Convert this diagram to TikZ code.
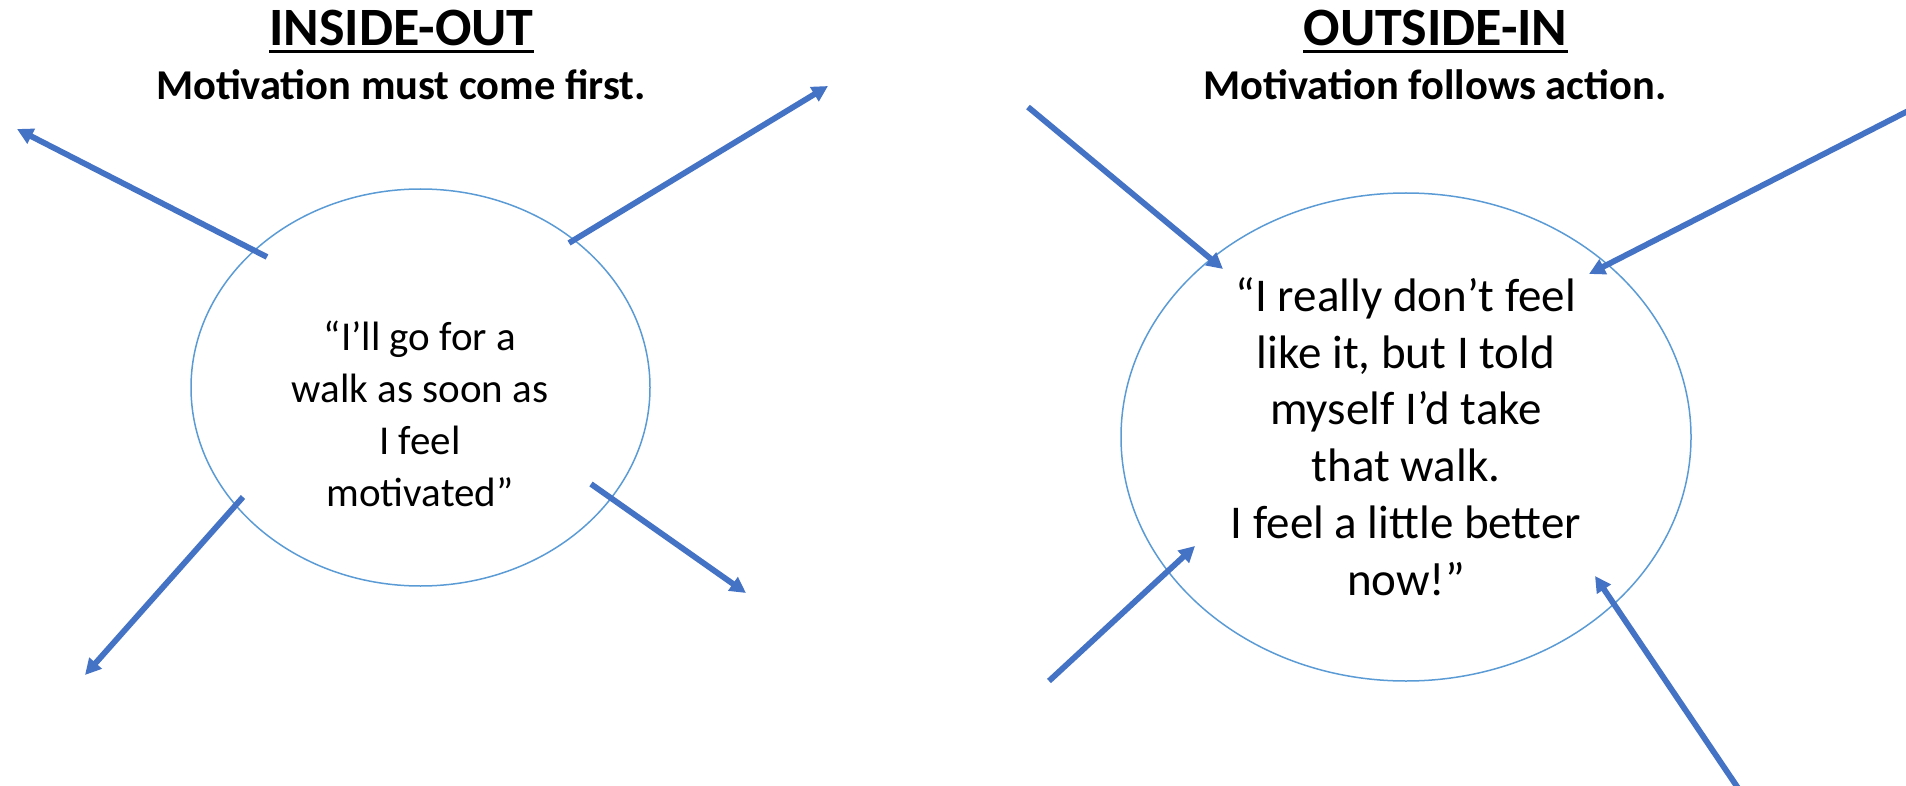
\documentclass[tikz,border=0pt]{standalone}
\usepackage{fontspec}
\setmainfont{Carlito}
\usetikzlibrary{arrows.meta,shapes.geometric}
\definecolor{arrowblue}{HTML}{4472C4}
\definecolor{ringblue}{HTML}{5B9BD5}
\tikzset{
  arr/.style={draw=arrowblue, line width=5.8pt, -{Triangle[length=16pt,width=16pt]}},
  ring/.style={ellipse, draw=ringblue, line width=1.5pt, inner sep=0pt},
  titletext/.style={font=\bfseries\fontsize{54}{60}\selectfont, inner sep=0pt, anchor=base},
  subtext/.style={font=\bfseries\fontsize{42.5}{50}\selectfont, inner sep=0pt, anchor=base},
  quoteL/.style={font=\fontsize{41}{52}\selectfont, align=center, inner sep=0pt},
  quoteR/.style={font=\fontsize{47}{56.8}\selectfont, align=center, inner sep=0pt},
  uline/.style={line width=2.7pt, black}
}
\begin{document}
\begin{tikzpicture}[x=1pt,y=-1pt]
\useasboundingbox (0,0) rectangle (1906,786);

% titles
\node[titletext] (tl) at (401.5,45.7) {INSIDE-OUT};
\node[subtext] (sl) at (401,100) {Motivation must come first.};
\node[titletext] (tr) at (1435.5,45.7) {OUTSIDE-IN};
\node[subtext] (sr) at (1435,100) {Motivation follows action.};
\draw[uline] ([yshift=-6pt]tl.base west) -- ([yshift=-6pt]tl.base east);
\draw[uline] ([yshift=-6pt]tr.base west) -- ([yshift=-6pt]tr.base east);

% ellipses
\node[ring, minimum width=459pt, minimum height=397pt] (L) at (420.5,387.5) {};
\node[ring, minimum width=570pt, minimum height=488pt] (R) at (1406,437) {};

% texts
\node[quoteL] (qL) at (420,414.3) {“I’ll go for a\\walk as soon as\\I feel\\motivated”};
\node[quoteR] (qR) at (1406,436.5) {“I really don’t feel\\like it, but I told\\myself I’d take\\that walk.\\I feel a little better\\now!”};

% left arrows (outward)
\coordinate (a1s) at (267,257); \coordinate (a1e) at (17,129);
\coordinate (a2s) at (569,243); \coordinate (a2e) at (828,86);
\coordinate (a3s) at (243,497); \coordinate (a3e) at (85,675);
\coordinate (a4s) at (591,484); \coordinate (a4e) at (746,593);
\draw[arr] (a1s) -- (a1e);
\draw[arr] (a2s) -- (a2e);
\draw[arr] (a3s) -- (a3e);
\draw[arr] (a4s) -- (a4e);

% right arrows (inward)
\coordinate (b1s) at (1028,107); \coordinate (b1e) at (1223,269);
\coordinate (b2s) at (1908,111); \coordinate (b2e) at (1589,274);
\coordinate (b3s) at (1049,681); \coordinate (b3e) at (1195,546);
\coordinate (b4s) at (1738,788); \coordinate (b4e) at (1595,576);
\draw[arr] (b1s) -- (b1e);
\draw[arr] (b2s) -- (b2e);
\draw[arr] (b3s) -- (b3e);
\draw[arr] (b4s) -- (b4e);
\end{tikzpicture}
\end{document}
